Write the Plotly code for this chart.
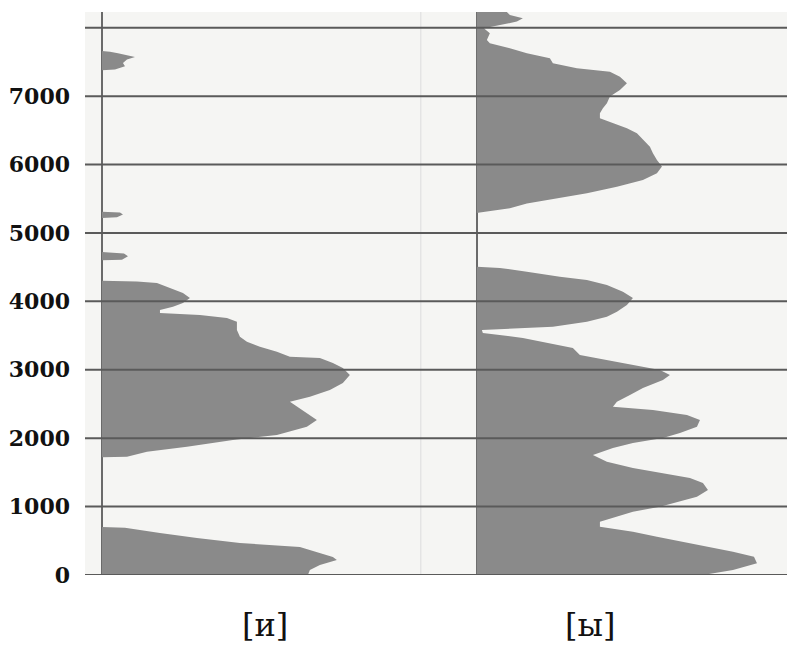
import plotly.graph_objects as go

# ---- data (frequency in Hz, relative amplitude) ----
tick_vals = [0, 1000, 2000, 3000, 4000, 5000, 6000, 7000, 8000]
tick_text = ["0", "1000", "2000", "3000", "4000", "5000", "6000", "7000", ""]
panel_labels = ["[и]", "[ы]"]

i_freq = [0, 73, 146, 220, 263, 336, 410, 468, 540, 614, 670, 690, 700,
          1720, 1730, 1803, 1876, 1974, 2047, 2095, 2168, 2266, 2368, 2460, 2534,
          2607, 2705, 2807, 2924, 3026, 3099, 3172, 3192, 3265, 3338, 3411, 3484,
          3582, 3703, 3757, 3801, 3830, 3874, 3923, 3976, 4050, 4123, 4196, 4269,
          4290, 4300,
          4600, 4610, 4660, 4700, 4720,
          5220, 5230, 5270, 5300, 5310,
          7380, 7388, 7436, 7485, 7534, 7573, 7626, 7650, 7660]
i_amp = [206, 208, 218, 235, 231, 215, 198, 138, 95, 58, 30, 23, 0,
         0, 25, 45, 85, 131, 175, 188, 205, 215, 205, 195, 188,
         208, 228, 241, 248, 241, 231, 218, 188, 175, 158, 145, 138,
         135, 135, 125, 98, 58, 58, 71, 81, 88, 81, 68, 55,
         35, 0,
         0, 20, 26, 22, 0,
         0, 15, 21, 18, 0,
         0, 13, 23, 21, 25, 33, 16, 8, 0]

y_freq = [0, 73, 170, 268, 341, 414, 487, 560, 633, 706, 779, 852, 925, 998,
          1072, 1145, 1243, 1345, 1418, 1491, 1564, 1657, 1754, 1857, 1930, 2003,
          2076, 2168, 2266, 2339, 2412, 2460, 2534, 2632, 2734, 2851, 2924, 2997,
          3070, 3143, 3216, 3318, 3392, 3465, 3538, 3582, 3630, 3703, 3776, 3849,
          3947, 4050, 4142, 4240, 4313, 4361, 4434, 4488, 4507,
          5290, 5300, 5361, 5430, 5510, 5580, 5677, 5775, 5873, 5970, 6067, 6165,
          6262, 6360, 6458, 6531, 6604, 6677, 6750, 6823, 6896, 6993, 7091, 7188,
          7285, 7358, 7407, 7480, 7553, 7626, 7699, 7772, 7822, 7919, 7992, 8041,
          8090, 8138, 8187, 8230]
y_amp = [226, 256, 280, 277, 256, 230, 206, 180, 156, 123, 123, 140, 156, 183,
         203, 220, 231, 226, 213, 186, 156, 130, 116, 136, 156, 186,
         203, 220, 223, 210, 176, 136, 140, 153, 166, 186, 193, 183,
         156, 130, 103, 96, 70, 46, 6, 5, 76, 110, 130, 140,
         150, 156, 146, 130, 110, 83, 50, 23, 0,
         0, 3, 33, 50, 80, 110, 140, 166, 180, 185, 180, 176,
         173, 166, 160, 150, 136, 123, 123, 126, 130, 133, 143, 150,
         143, 133, 100, 76, 73, 50, 33, 13, 10, 13, 7, 23,
         40, 46, 33, 30]

FILL = "#8a8a8a"
GRID = "#5a5a5a"
BG = "#f5f5f3"
FONT = "DejaVu Serif"

fig = go.Figure()
fig.add_trace(go.Scatter(x=i_amp, y=i_freq, mode="lines", fill="tozerox",
                         fillcolor=FILL, line=dict(width=0, color=FILL),
                         xaxis="x", yaxis="y", hoverinfo="skip", showlegend=False))
fig.add_trace(go.Scatter(x=y_amp, y=y_freq, mode="lines", fill="tozerox",
                         fillcolor=FILL, line=dict(width=0, color=FILL),
                         xaxis="x2", yaxis="y", hoverinfo="skip", showlegend=False))

split = 0.473
fig.update_layout(
    width=787, height=637,
    margin=dict(l=77, r=0, t=4, b=70),
    paper_bgcolor="white", plot_bgcolor=BG,
    xaxis=dict(domain=[0, split], range=[-17, 319], showgrid=False,
               showticklabels=False, zeroline=True, zerolinecolor="#6a6a6a",
               zerolinewidth=2, fixedrange=True),
    xaxis2=dict(domain=[split, 1], range=[-56, 318], showgrid=False,
                showticklabels=False, zeroline=True, zerolinecolor="#6a6a6a",
                zerolinewidth=2, anchor="y", fixedrange=True),
    yaxis=dict(range=[0, 8230], tickvals=tick_vals, ticktext=tick_text,
               showgrid=False, zeroline=False, ticks="", ticklabelstandoff=14,
               tickfont=dict(family=FONT, size=22, color="#111", weight="bold"),
               fixedrange=True),
    showlegend=False,
)

# horizontal reference lines drawn above the spectra
for v in tick_vals:
    fig.add_shape(type="line", xref="paper", yref="y", x0=0, x1=1, y0=v, y1=v,
                  line=dict(color=GRID, width=2), layer="above")

# faint divider between the two panels
fig.add_shape(type="line", xref="paper", yref="paper", x0=split, x1=split,
              y0=0, y1=1, line=dict(color="#dcdcdc", width=1), layer="below")

# panel labels
centers = [0.218, 0.749]
for lab, cx in zip(panel_labels, centers):
    fig.add_annotation(text=lab, xref="paper", yref="paper", x=cx, y=-0.089,
                       showarrow=False, yanchor="middle",
                       font=dict(family=FONT, size=32, color="#111"))

fig.write_html("out.html")
